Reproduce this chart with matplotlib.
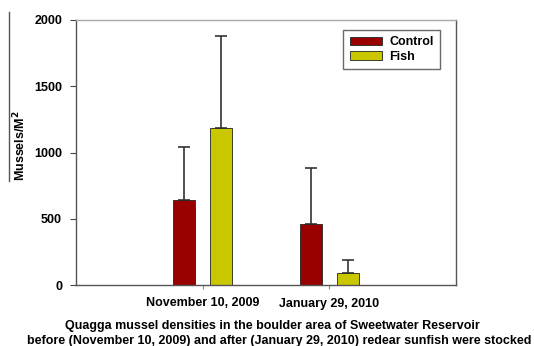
import matplotlib
matplotlib.use("Agg")
import matplotlib.pyplot as plt
from matplotlib.lines import Line2D

# data
dates = ["November 10, 2009", "January 29, 2010"]
control = [639, 463]
control_err = [405, 420]
fish = [1182, 93]
fish_err = [700, 93]

plt.rcParams['font.family'] = ['Liberation Sans', 'DejaVu Sans']
plt.rcParams['font.weight'] = 'bold'

fig = plt.figure(figsize=(5.34, 3.46), dpi=100)
ax = fig.add_axes([76/534, 1-285/346, 380/534, 265/346])

x = [1, 2]
w = 0.175
off = 0.148
xc = [i - off for i in x]
xf = [i + off for i in x]

ax.bar(xc, control, width=w, color='#990000', edgecolor='#222222', linewidth=0.6, label='Control', zorder=2)
ax.bar(xf, fish, width=w, color='#C9C800', edgecolor='#222222', linewidth=0.6, label='Fish', zorder=2)
ax.errorbar(xc, control, yerr=[[0, 0], control_err], fmt='none', ecolor='#333333', elinewidth=1.2, capsize=4, capthick=1.2, zorder=1)
ax.errorbar(xf, fish, yerr=[[0, 0], fish_err], fmt='none', ecolor='#333333', elinewidth=1.2, capsize=4, capthick=1.2, zorder=1)

ax.set_xlim(0, 3)
ax.set_ylim(0, 2000)
ax.set_yticks([0, 500, 1000, 1500, 2000])
ax.set_xticks(x)
ax.set_xticklabels(dates, fontsize=9, fontweight='bold')
for t in ax.get_yticklabels():
    t.set_fontsize(9)
    t.set_fontweight('bold')
ax.tick_params(axis='y', direction='out', length=4, width=0.8, color='#444444', pad=6)
ax.tick_params(axis='x', direction='out', length=3, width=0.8, color='#888888', pad=6)
for s in ax.spines.values():
    s.set_color('#555555')
    s.set_linewidth(1.0)
ax.spines['top'].set_color('#aaaaaa')

# y label placed by hand, next to the stray line
fig.text(20/534, 1-146/346, 'Mussels/M$^\\mathbf{2}$', rotation=90, ha='center', va='center',
         fontsize=9, fontweight='bold')

leg = ax.legend(loc='upper right', bbox_to_anchor=(0.975, 0.985), fontsize=9, frameon=True, fancybox=False,
                handlelength=2.6, handleheight=0.7, borderpad=0.5, labelspacing=0.2, handletextpad=0.6)
leg.get_frame().set_edgecolor('#444444')
leg.get_frame().set_linewidth(1.0)
for t in leg.get_texts():
    t.set_fontweight('bold')

# stray line left of the y label
fig.add_artist(Line2D([8.5/534, 8.5/534], [1-12/346, 1-181/346], color='#555555', linewidth=1.0))

fig.text(272/534, 1-326/346, "Quagga mussel densities in the boulder area of Sweetwater Reservoir",
         ha='center', va='center', fontsize=9, fontweight='bold')
fig.text(279/534, 1-341/346, "before (November 10, 2009) and after (January 29, 2010) redear sunfish were stocked",
         ha='center', va='center', fontsize=9, fontweight='bold')

fig.savefig('out.png', dpi=100)
